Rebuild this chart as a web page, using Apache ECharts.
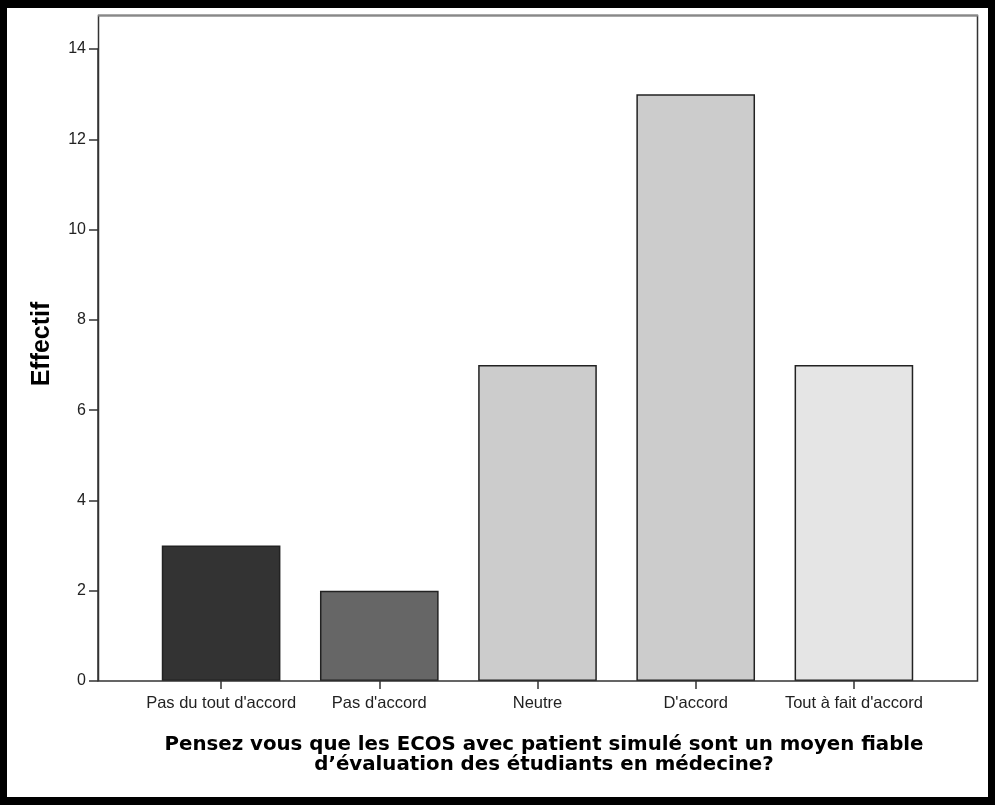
<!DOCTYPE html>
<html>
<head>
<meta charset="utf-8">
<script src="https://cdn.jsdelivr.net/npm/echarts@6/dist/echarts.min.js"></script>
<style>
html,body{margin:0;padding:0;background:#fff;}
#chart{width:995px;height:805px;}
</style>
</head>
<body>
<div id="chart"></div>
<script>
const categories = ["Pas du tout d'accord", "Pas d'accord", "Neutre", "D'accord", "Tout à fait d'accord"];
const counts = [3, 2, 7, 13, 7];
const barColors = ["#333333", "#666666", "#cccccc", "#cccccc", "#e5e5e5"];
const yTicks = [0, 2, 4, 6, 8, 10, 12, 14];
const xTitle = "Pensez vous que les ECOS avec patient simulé sont un moyen fiable\nd’évaluation des étudiants en médecine?";
const yTitle = "Effectif";

const chart = echarts.init(document.getElementById('chart'), null, {renderer: 'canvas'});
const option = {
  animation: false,
  backgroundColor: '#ffffff',
  title: {
    text: xTitle,
    left: 539,
    top: 730,
    textAlign: 'center',
    textStyle: {
      fontFamily: 'DejaVu Sans',
      fontWeight: 'bold',
      fontSize: 19.8,
      lineHeight: 20,
      color: '#000'
    }
  },
  grid: {left: 142, right: 62, top: 49, bottom: 124},
  xAxis: {
    type: 'category',
    data: categories,
    axisLine: {show: false},
    axisTick: {show: true, interval: 0, alignWithLabel: true, length: 8, lineStyle: {color: '#333', width: 1.5}},
    axisLabel: {interval: 0, hideOverlap: false, fontFamily: 'Liberation Sans', fontSize: 16.5, color: '#222', margin: 14}
  },
  yAxis: {
    type: 'value',
    min: yTicks[0],
    max: yTicks[yTicks.length - 1],
    interval: 2,
    offset: 44,
    axisLine: {show: true, lineStyle: {color: '#333', width: 1.5}},
    axisTick: {show: true, length: 9, lineStyle: {color: '#333', width: 1.5}},
    axisLabel: {fontFamily: 'Liberation Sans', fontSize: 16, color: '#222', margin: 12},
    splitLine: {show: false}
  },
  series: [{
    type: 'bar',
    barWidth: '75%',
    data: counts.map((v, i) => ({value: v, itemStyle: {color: barColors[i]}})),
    itemStyle: {borderColor: '#222', borderWidth: 1.5}
  }],
  graphic: [
    {type: 'text', silent: true, x: 42, y: 344, rotation: Math.PI / 2,
     style: {text: yTitle, align: 'center', verticalAlign: 'middle', fontFamily: 'Liberation Sans', fontWeight: 'bold', fontSize: 25, fill: '#000'}},
    {type: 'rect', silent: true, z: 100, shape: {x: 98.5, y: 15.5, width: 879, height: 665.5}, style: {fill: 'none', stroke: '#333', lineWidth: 1.5}},
    {type: 'line', silent: true, z: 101, shape: {x1: 98, y1: 15.5, x2: 978, y2: 15.5}, style: {stroke: '#888', lineWidth: 2}},
    {type: 'rect', silent: true, z: 200, shape: {x: 0, y: 0, width: 995, height: 8}, style: {fill: '#000'}},
    {type: 'rect', silent: true, z: 200, shape: {x: 0, y: 0, width: 7, height: 805}, style: {fill: '#000'}},
    {type: 'rect', silent: true, z: 200, shape: {x: 988, y: 0, width: 7, height: 805}, style: {fill: '#000'}},
    {type: 'rect', silent: true, z: 200, shape: {x: 0, y: 797, width: 995, height: 8}, style: {fill: '#000'}}
  ]
};
chart.setOption(option);
</script>
</body>
</html>
